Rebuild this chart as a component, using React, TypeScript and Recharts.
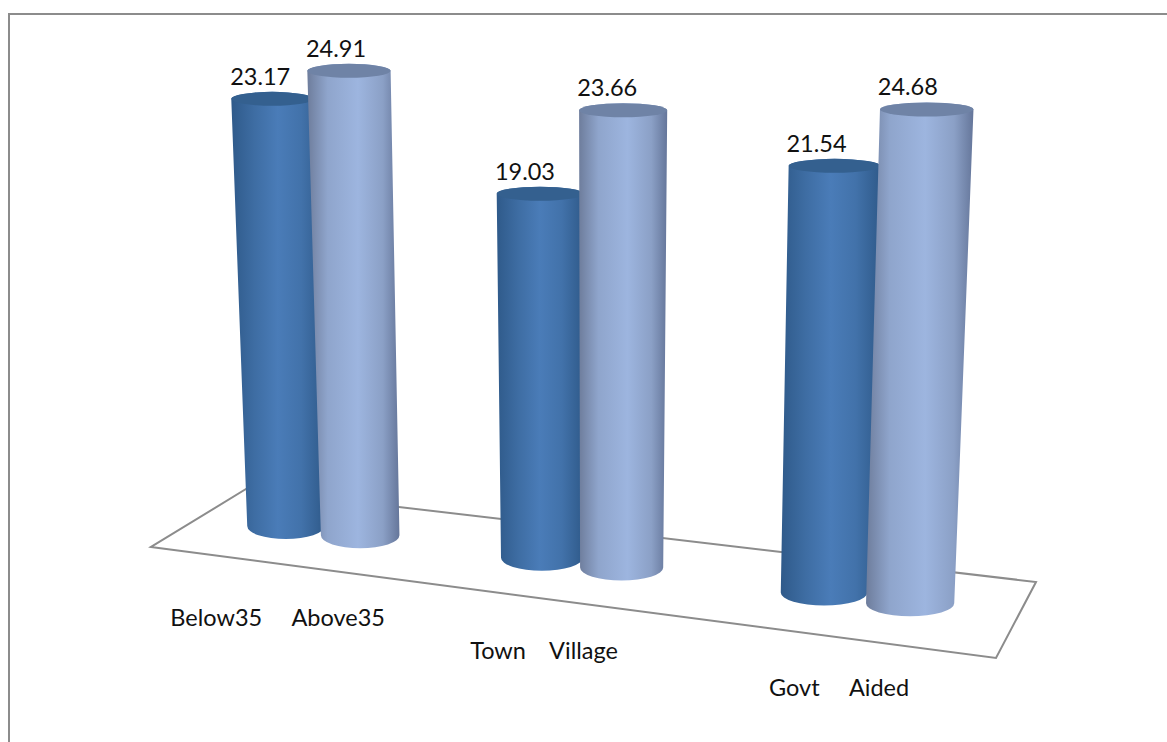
import React from 'react';
import { BarChart, Bar, XAxis, YAxis } from 'recharts';

const categories = ['Below35     Above35', 'Town    Village', 'Govt     Aided'];
const firstValues = [23.17, 19.03, 21.54];
const secondValues = [24.91, 23.66, 24.68];

const data = categories.map((name, i) => ({ name, first: firstValues[i], second: secondValues[i] }));

const WIDTH = 1167;
const HEIGHT = 742;
const AXIS_HEIGHT = 1;
const MAX_Y = 30;
const FLAT_SCALE = (HEIGHT - AXIS_HEIGHT) / MAX_Y;

// floor corners on screen, the unit square (u along the axis, v into the depth) maps onto them
const FL = [151, 547];
const FR = [996, 658];
const BR = [1036, 582];
const BL = [246, 489];
const FLOOR_V = 0.52;

const dx1 = FR[0] - BR[0];
const dx2 = BL[0] - BR[0];
const sx = FL[0] - FR[0] + BR[0] - BL[0];
const dy1 = FR[1] - BR[1];
const dy2 = BL[1] - BR[1];
const sy = FL[1] - FR[1] + BR[1] - BL[1];
const den = dx1 * dy2 - dx2 * dy1;
const g = (sx * dy2 - dx2 * sy) / den;
const h = (dx1 * sy - sx * dy1) / den;

const project = (u: number, v: number) => {
  const w = g * u + h * v + 1;
  return {
    x: ((FR[0] - FL[0] + g * FR[0]) * u + (BL[0] - FL[0] + h * BL[0]) * v + FL[0]) / w,
    y: ((FR[1] - FL[1] + g * FR[1]) * u + (BL[1] - FL[1] + h * BL[1]) * v + FL[1]) / w,
  };
};

// the flat bar from the chart scales gets stood up on the floor
const makeCylinder = (values: number[], bodyFill: string, capFill: string) => (props: any) => {
  const { x, width, height, index } = props;
  const flatU = (x + width / 2) / WIDTH;
  const groupU = (index + 0.5) / categories.length;
  // bars in a group sit a little closer together than the plain projection gives
  const u = groupU + (flatU - groupU) * (0.98 - 0.07 * flatU);
  const du = width / WIDTH;
  const base = project(u, FLOOR_V);
  const baseLeft = project(u - du / 2, FLOOR_V);
  const baseRight = project(u + du / 2, FLOOR_V);
  const baseX = base.x + 3 * u;
  const rx = ((baseRight.x - baseLeft.x) / 2) * (1.04 - 0.12 * u);
  const tall = (height / FLAT_SCALE) * (18.2 + 2.05 * u);
  const lean = (baseX - 590) * 0.000105;
  const topX = baseX + lean * tall;
  const topY = base.y - tall;
  const topRx = rx * 1.06;
  const d =
    `M${topX - topRx},${topY} L${baseX - rx},${base.y} ` +
    `A${rx},13 0 0 0 ${baseX + rx},${base.y} ` +
    `L${topX + topRx},${topY} A${topRx},7 0 0 0 ${topX - topRx},${topY} Z`;
  return (
    <g>
      <path d={d} fill={bodyFill} />
      <ellipse cx={topX} cy={topY} rx={topRx} ry={7} fill={capFill} />
      <text
        x={topX - 11 - 9 * u}
        y={topY - 14}
        textAnchor="middle"
        fontFamily="Lato"
        fontSize={23.5}
        fill="#111"
      >
        {values[index].toFixed(2)}
      </text>
    </g>
  );
};

const CategoryTick = (props: any) => {
  const { x, payload } = props;
  const u = x / WIDTH;
  const p = project(u, 0);
  return (
    <text
      x={p.x + 3}
      y={p.y + 64 - 6 * u}
      textAnchor="middle"
      fontFamily="Lato"
      fontSize={23.5}
      fill="#111"
      style={{ whiteSpace: 'pre' }}
    >
      {payload.value}
    </text>
  );
};

const App = () => {
  return (
    <div style={{ position: 'absolute', left: 0, top: 0, width: WIDTH, height: HEIGHT, overflow: 'hidden', background: '#fff' }}>
      <div style={{ position: 'absolute', left: 8, top: 13, right: 0, bottom: 0, borderTop: '2px solid #8c8c8c', borderLeft: '2px solid #8c8c8c' }} />
      <div style={{ position: 'absolute', left: 0, top: 0 }}>
        <BarChart
          width={WIDTH}
          height={HEIGHT}
          data={data}
          margin={{ top: 0, right: 0, bottom: 0, left: 0 }}
          barCategoryGap="19%"
          barGap={0}
        >
          <defs>
            <linearGradient id="darkBody" x1="0" y1="0" x2="1" y2="0">
              <stop offset="0%" stopColor="#2f5a8a" />
              <stop offset="25%" stopColor="#3e6da3" />
              <stop offset="50%" stopColor="#4a7cb8" />
              <stop offset="75%" stopColor="#4272aa" />
              <stop offset="100%" stopColor="#2f5a8a" />
            </linearGradient>
            <linearGradient id="lightBody" x1="0" y1="0" x2="1" y2="0">
              <stop offset="0%" stopColor="#6e7d9c" />
              <stop offset="22%" stopColor="#8fa5cc" />
              <stop offset="55%" stopColor="#9db5df" />
              <stop offset="82%" stopColor="#8ba0c6" />
              <stop offset="100%" stopColor="#65769a" />
            </linearGradient>
          </defs>
          <polygon
            points={[FL, FR, BR, BL].map((c) => c.join(',')).join(' ')}
            fill="none"
            stroke="#8c8c8c"
            strokeWidth={2}
          />
          <XAxis dataKey="name" height={AXIS_HEIGHT} axisLine={false} tickLine={false} tick={CategoryTick} interval={0} />
          <YAxis hide domain={[0, MAX_Y]} />
          <Bar
            dataKey="first"
            isAnimationActive={false}
            shape={makeCylinder(firstValues, 'url(#darkBody)', '#34608f')}
          />
          <Bar
            dataKey="second"
            isAnimationActive={false}
            shape={makeCylinder(secondValues, 'url(#lightBody)', '#6f83a6')}
          />
        </BarChart>
      </div>
    </div>
  );
};

export default App;
